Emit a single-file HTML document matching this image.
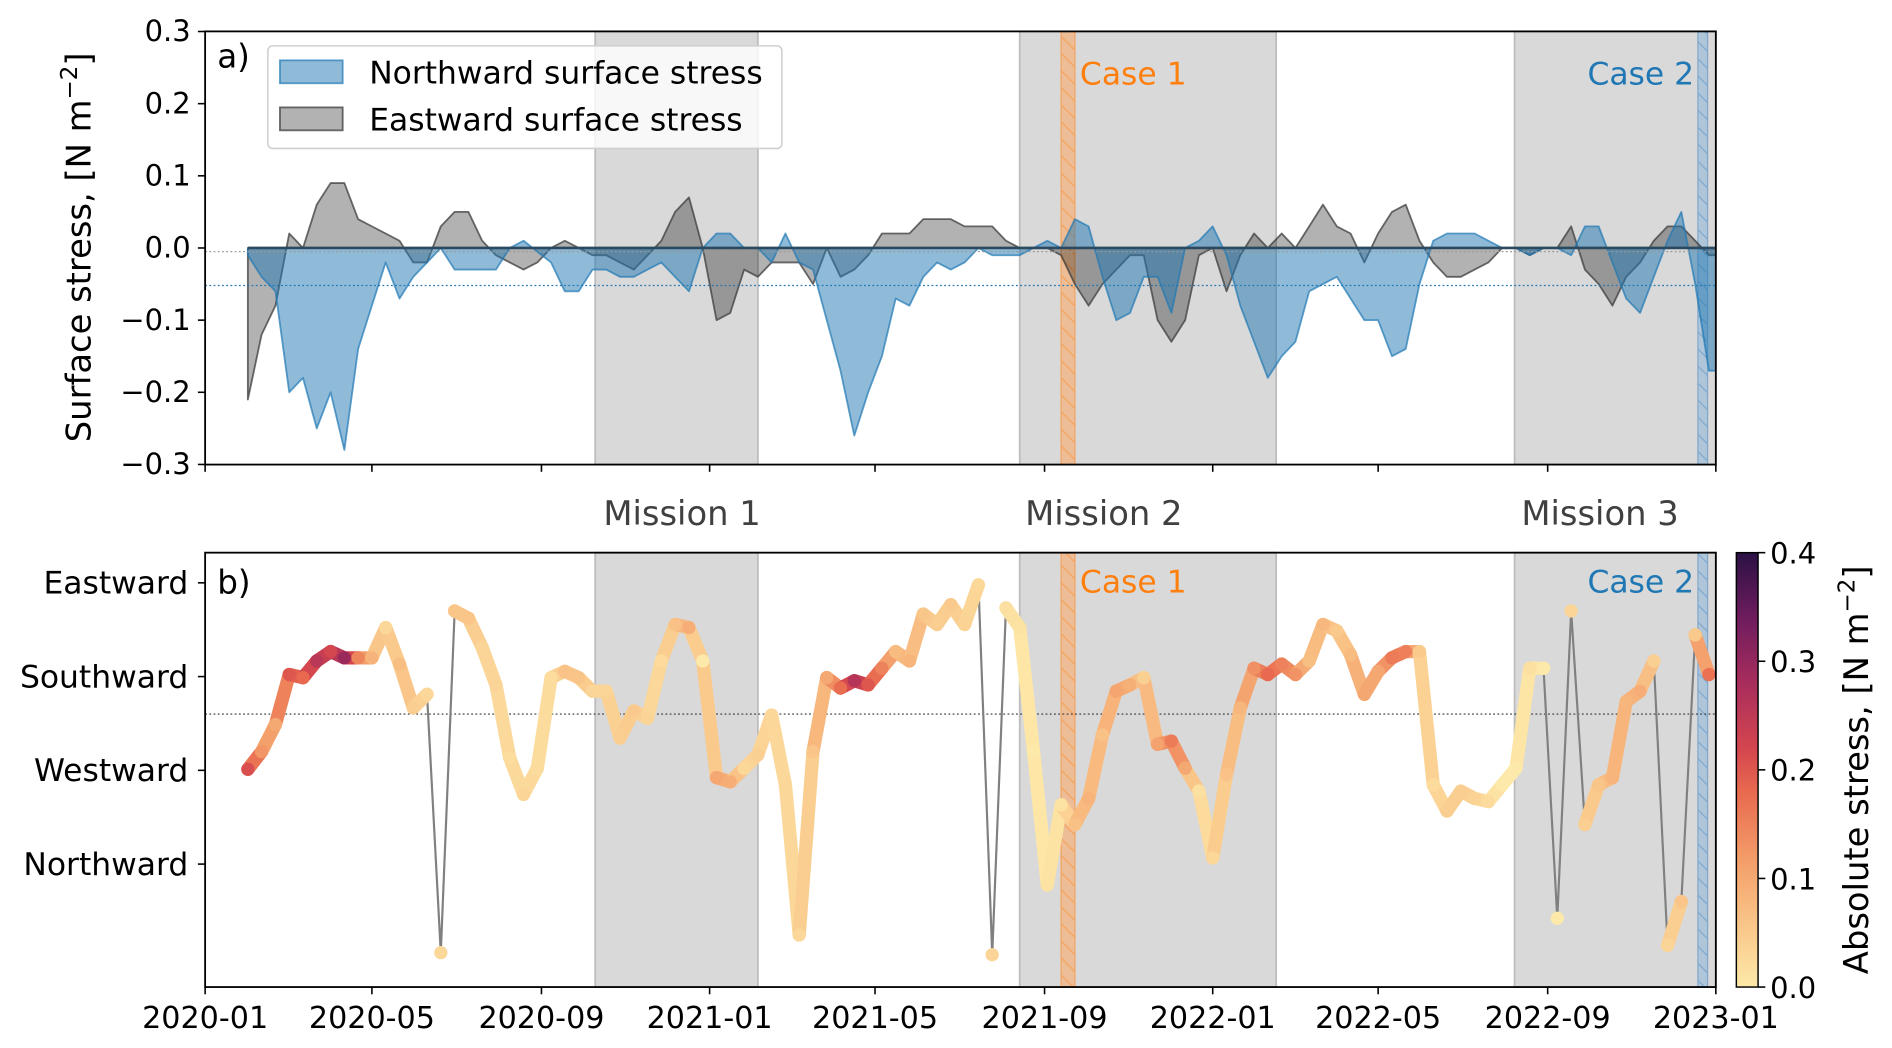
<!DOCTYPE html>
<html><head><meta charset="utf-8"><style>
html,body{margin:0;padding:0;background:#fff;}
svg{display:block;font-family:"DejaVu Sans","Liberation Sans",sans-serif;}
</style></head><body>
<svg id="chart" width="1892" height="1048" viewBox="0 0 1568 868.5" xmlns="http://www.w3.org/2000/svg">
<defs>
<pattern id="hatchO" patternUnits="userSpaceOnUse" width="10" height="10" patternTransform="rotate(-45)"><line x1="0" y1="0" x2="0" y2="10" stroke="#f5a35c" stroke-width="2"/></pattern>
<pattern id="hatchB" patternUnits="userSpaceOnUse" width="10" height="10" patternTransform="rotate(-45)"><line x1="0" y1="0" x2="0" y2="10" stroke="#7fa8cc" stroke-width="2"/></pattern>
<linearGradient id="cbar" x1="0" y1="1" x2="0" y2="0">
<stop offset="0" stop-color="#fde9a9"/><stop offset="0.15" stop-color="#f9c487"/><stop offset="0.3" stop-color="#f39b68"/><stop offset="0.45" stop-color="#e8694f"/><stop offset="0.55" stop-color="#d4464f"/><stop offset="0.7" stop-color="#a82d5c"/><stop offset="0.85" stop-color="#6e1c5e"/><stop offset="1" stop-color="#2b1145"/>
</linearGradient>
<clipPath id="clipA"><rect x="170" y="26" width="1252" height="359"/></clipPath>
<clipPath id="clipB"><rect x="170" y="458" width="1252" height="360"/></clipPath>
</defs>
<g id="gA"></g>
<g id="gB"></g>
</svg>
<script>
// ---- data (10-day samples starting 2020-02-01) ----
const startDay = 31;
const stepDays = 10;
const northward = [-0.01,-0.04,-0.06,-0.20,-0.18,-0.25,-0.20,-0.28,-0.14,-0.08,-0.02,-0.07,-0.04,-0.02,0.0,-0.03,-0.03,-0.03,-0.03,0.0,0.01,-0.005,-0.02,-0.06,-0.06,-0.03,-0.03,-0.04,-0.04,-0.03,-0.02,-0.04,-0.06,0.0,0.02,
0.02,0.0,0.0,-0.02,0.02,-0.02,-0.03,-0.10,-0.17,-0.26,-0.20,-0.15,-0.07,-0.08,-0.04,-0.02,-0.03,-0.02,0.0,-0.01,-0.01,-0.01,0.0,0.01,0.0,0.04,0.03,-0.04,-0.10,-0.09,-0.04,-0.04,-0.09,0.0,0.01,0.03,
-0.01,-0.08,-0.13,-0.18,-0.15,-0.13,-0.06,-0.05,-0.04,-0.07,-0.10,-0.10,-0.15,-0.14,-0.05,0.01,0.02,0.02,0.02,0.01,0.0,0.0,-0.01,0.0,0.0,-0.01,0.03,0.03,-0.02,-0.07,-0.09,-0.04,0.01,0.05,-0.05,-0.17];
const eastward = [-0.21,-0.12,-0.08,0.02,0.0,0.06,0.09,0.09,0.04,0.03,0.02,0.01,-0.02,-0.02,0.03,0.05,0.05,0.01,-0.01,-0.02,-0.03,-0.02,0.0,0.01,0.0,-0.01,-0.01,-0.02,-0.03,-0.01,0.01,0.05,0.07,0.0,-0.10,
-0.09,-0.03,-0.04,-0.02,-0.02,-0.02,-0.05,0.0,-0.04,-0.03,-0.01,0.02,0.02,0.02,0.04,0.04,0.04,0.03,0.03,0.03,0.01,0.0,0.0,0.0,-0.01,-0.05,-0.08,-0.05,-0.03,-0.01,-0.01,-0.10,-0.13,-0.10,-0.01,0.0,
-0.06,-0.01,0.02,0.0,0.02,0.0,0.03,0.06,0.03,0.02,-0.02,0.02,0.05,0.06,0.01,-0.02,-0.04,-0.04,-0.03,-0.02,0.0,0.0,-0.01,0.0,0.0,0.03,-0.03,-0.05,-0.08,-0.04,-0.02,0.01,0.03,0.03,0.01,-0.01];
const direction = [269,252,226,178,181,165,156,162,162,162,133,168,210,197,445,117,124,152,188,258,293,268,181,175,181,194,194,239,213,220,165,130,133,165,277,
281,268,255,217,284,428,252,181,191,184,188,172,156,165,120,130,111,130,92,447,114,133,252,380,303,322,297,236,194,188,181,245,242,268,290,354,
274,210,172,178,168,178,165,130,136,159,197,175,162,156,156,284,309,290,297,300,284,268,172,172,412,117,322,284,277,204,194,165,438,396,140,178];
const xTickLabels = ["2020-01","2020-05","2020-09","2021-01","2021-05","2021-09","2022-01","2022-05","2022-09","2023-01"];
const yTicksA = [0.3,0.2,0.1,0.0,-0.1,-0.2,-0.3];
const yCatsB = ["Eastward","Southward","Westward","Northward"];
const yCatDegB = [90,180,270,360];
const cbTicks = [0.0,0.1,0.2,0.3,0.4];
const missions = [["Mission 1","2020-10-10","2021-02-05"],["Mission 2","2021-08-14","2022-02-16"],["Mission 3","2022-08-08","2023-01-01"]];
const missionLabelDates = ["2020-12-12","2021-10-14","2022-10-09"];
const cases = [["Case 1","2021-09-13","2021-09-23"],["Case 2","2022-12-19","2022-12-26"]];

const NS="http://www.w3.org/2000/svg";
const gA=document.getElementById('gA'), gB=document.getElementById('gB');
function el(tag,attrs,parent,txt){const e=document.createElementNS(NS,tag);for(const k in attrs)e.setAttribute(k,attrs[k]);if(txt!==undefined)e.textContent=txt;parent.appendChild(e);return e;}
const D0=Date.UTC(2020,0,1);
function dayOf(s){const p=s.split('-');return (Date.UTC(+p[0],+p[1]-1,p[2]?+p[2]:1)-D0)/864e5;}
const X0=170,X1=1422,TOT=dayOf("2023-01-01");
function xd(d){return X0+d*(X1-X0)/TOT;}
function ya(v){return 205.5-v*598;}
function yb(deg){return 483+(deg-90)*77.7/90;}
const days=northward.map((_,i)=>startDay+i*stepDays);

function shade(g,top,bot){
  missions.forEach(m=>{
    const x1=xd(dayOf(m[1])),x2=xd(dayOf(m[2]));
    const r=el('rect',{x:x1,y:top,width:x2-x1,height:bot-top,fill:'#d9d9d9',stroke:'#bdbdbd','stroke-width':1.5},g);
    
    
  });
  cases.forEach((c,i)=>{
    const x1=xd(dayOf(c[1])),x2=xd(dayOf(c[2]));
    const col=i==0?'#f5b07a':'#9dbcd8';
    const r=el('rect',{x:x1,y:top,width:x2-x1,height:bot-top,fill:col,'fill-opacity':0.7,stroke:i==0?'#f5a35c':'#7fa8cc','stroke-width':1},g);
    
    
    el('rect',{x:x1,y:top,width:x2-x1,height:bot-top,fill:i==0?'url(#hatchO)':'url(#hatchB)'},g);
  });
}

// ---------- Panel A ----------
shade(gA,26,385);
const cA=el('g',{'clip-path':'url(#clipA)'},gA);
function area(vals,fill,stroke,name){
  let d='M'+xd(days[0])+','+ya(0);
  vals.forEach((v,i)=>{d+=' L'+xd(days[i]).toFixed(1)+','+ya(v).toFixed(1);});
  d+=' L'+xd(TOT)+','+ya(vals[vals.length-1]).toFixed(1)+' L'+xd(TOT)+','+ya(0)+' Z';
  const p=el('path',{d:d,fill:fill,stroke:stroke,'stroke-width':1.5,'stroke-linejoin':'round'},cA);
  
  
}
area(eastward,'rgba(0,0,0,0.3)','rgba(60,60,60,0.75)','eastward-area');
area(northward,'rgba(31,119,180,0.5)','rgba(31,119,180,0.7)','northward-area');
el('line',{x1:xd(days[0]),x2:X1,y1:ya(0),y2:ya(0),stroke:'#2b4a60','stroke-width':2.2},cA);
el('line',{x1:X0,x2:X1,y1:ya(-0.005),y2:ya(-0.005),stroke:'#999','stroke-width':1,'stroke-dasharray':'1.5,2'},cA);
el('line',{x1:X0,x2:X1,y1:ya(-0.052),y2:ya(-0.052),stroke:'#1f77b4','stroke-width':1,'stroke-dasharray':'1.5,2'},cA);
el('rect',{x:X0,y:26,width:X1-X0,height:359,fill:'none',stroke:'#000','stroke-width':1.5},gA);
yTicksA.forEach(v=>{
  el('line',{x1:X0-6,x2:X0,y1:ya(v),y2:ya(v),stroke:'#000','stroke-width':1.3},gA);
  const t=el('text',{x:X0-12,y:ya(v)+8,'text-anchor':'end','font-size':24},gA,(v<0?'\u2212':'')+Math.abs(v).toFixed(1));
  
  
});
xTickLabels.forEach(s=>{el('line',{x1:xd(dayOf(s)),x2:xd(dayOf(s)),y1:385,y2:391,stroke:'#000','stroke-width':1.3},gA);});
const yt=el('text',{x:0,y:0,transform:'translate(75,205) rotate(-90)','text-anchor':'middle','font-size':28},gA);
yt.innerHTML='Surface stress, [N m<tspan dy="-11" font-size="19">\u22122</tspan><tspan dy="11">]</tspan>';


el('text',{x:180,y:56,'font-size':27},gA,'a)');
// legend
const lg=el('g',{},gA);


el('rect',{x:222,y:38,width:426,height:85,rx:4,fill:'rgba(255,255,255,0.8)',stroke:'#d0d0d0','stroke-width':1.3},lg);
el('rect',{x:232,y:50,width:52,height:19,fill:'rgba(31,119,180,0.5)',stroke:'rgba(31,119,180,0.7)','stroke-width':1.5},lg);
el('rect',{x:232,y:89,width:52,height:19,fill:'rgba(0,0,0,0.3)',stroke:'rgba(60,60,60,0.75)','stroke-width':1.5},lg);
el('text',{x:306,y:69,'font-size':26},lg,'Northward surface stress');
el('text',{x:306,y:108,'font-size':26},lg,'Eastward surface stress');
cases.forEach((c,i)=>{
  const t=el('text',{x:i==0?895:1404,y:70,'font-size':26,fill:i==0?'#ff7f0e':'#1f77b4','text-anchor':i==0?'start':'end'},gA,c[0]);
  
  
});
missions.forEach((m,i)=>{
  const t=el('text',{x:xd(dayOf(missionLabelDates[i])),y:435,'font-size':28,fill:'#404040','text-anchor':'middle'},gA,m[0]);
  
  
});

// ---------- Panel B ----------
shade(gB,458,818);
const cB=el('g',{'clip-path':'url(#clipB)'},gB);
el('line',{x1:X0,x2:X1,y1:yb(216),y2:yb(216),stroke:'#333','stroke-width':1,'stroke-dasharray':'1.5,2'},cB);
const cstops=[[0,[253,233,169]],[0.06,[249,196,135]],[0.12,[243,155,104]],[0.18,[232,105,79]],[0.22,[212,70,79]],[0.28,[168,45,92]],[0.34,[110,28,94]],[0.4,[43,17,69]]];
function cmap(v){v=Math.max(0,Math.min(0.4,v));for(let i=1;i<cstops.length;i++){if(v<=cstops[i][0]){const a=cstops[i-1],b=cstops[i],t=(v-a[0])/(b[0]-a[0]);return 'rgb('+a[1].map((c,k)=>Math.round(c+(b[1][k]-c)*t)).join(',')+')';}}return 'rgb(43,17,69)';}
const mag=northward.map((n,i)=>Math.sqrt(n*n+eastward[i]*eastward[i]));
let pl='';direction.forEach((d,i)=>{pl+=xd(days[i]).toFixed(1)+','+yb(d).toFixed(1)+' ';});
el('polyline',{points:pl,fill:'none',stroke:'#808080','stroke-width':1.8},cB);
for(let i=0;i<direction.length-1;i++){
  if(Math.abs(direction[i+1]-direction[i])>180)continue;
  const s=el('line',{x1:xd(days[i]),y1:yb(direction[i]),x2:xd(days[i+1]),y2:yb(direction[i+1]),stroke:cmap((mag[i]+mag[i+1])/2),'stroke-width':11,'stroke-linecap':'round'},cB);
  
  
}
direction.forEach((d,i)=>{
  const c=el('circle',{cx:xd(days[i]),cy:yb(d),r:5.5,fill:cmap(mag[i])},cB);
  
  
});
el('rect',{x:X0,y:458,width:X1-X0,height:360,fill:'none',stroke:'#000','stroke-width':1.5},gB);
yCatsB.forEach((c,i)=>{
  const y=yb(yCatDegB[i]);
  el('line',{x1:X0-6,x2:X0,y1:y,y2:y,stroke:'#000','stroke-width':1.3},gB);
  const t=el('text',{x:X0-14,y:y+9,'text-anchor':'end','font-size':26},gB,c);
  
  
});
el('text',{x:180,y:492,'font-size':27},gB,'b)');
cases.forEach((c,i)=>{el('text',{x:i==0?895:1404,y:491,'font-size':26,fill:i==0?'#ff7f0e':'#1f77b4','text-anchor':i==0?'start':'end'},gB,c[0]);});
xTickLabels.forEach(s=>{
  const x=xd(dayOf(s));
  el('line',{x1:x,x2:x,y1:818,y2:824,stroke:'#000','stroke-width':1.3},gB);
  const t=el('text',{x:x,y:852,'text-anchor':'middle','font-size':25},gB,s);
  
  
});
// colorbar
const cb=el('g',{},gB);


el('rect',{x:1439,y:458,width:18,height:360,fill:'url(#cbar)',stroke:'#000','stroke-width':1.2},cb);
cbTicks.forEach(v=>{
  const y=818-v/0.4*360;
  el('line',{x1:1457,x2:1463,y1:y,y2:y,stroke:'#000','stroke-width':1.3},cb);
  el('text',{x:1467,y:y+9,'font-size':24},cb,v.toFixed(1));
});
const ct=el('text',{x:0,y:0,transform:'translate(1548,638) rotate(-90)','text-anchor':'middle','font-size':28},cb);
ct.innerHTML='Absolute stress, [N m<tspan dy="-11" font-size="19">\u22122</tspan><tspan dy="11">]</tspan>';
</script>
</body></html>
